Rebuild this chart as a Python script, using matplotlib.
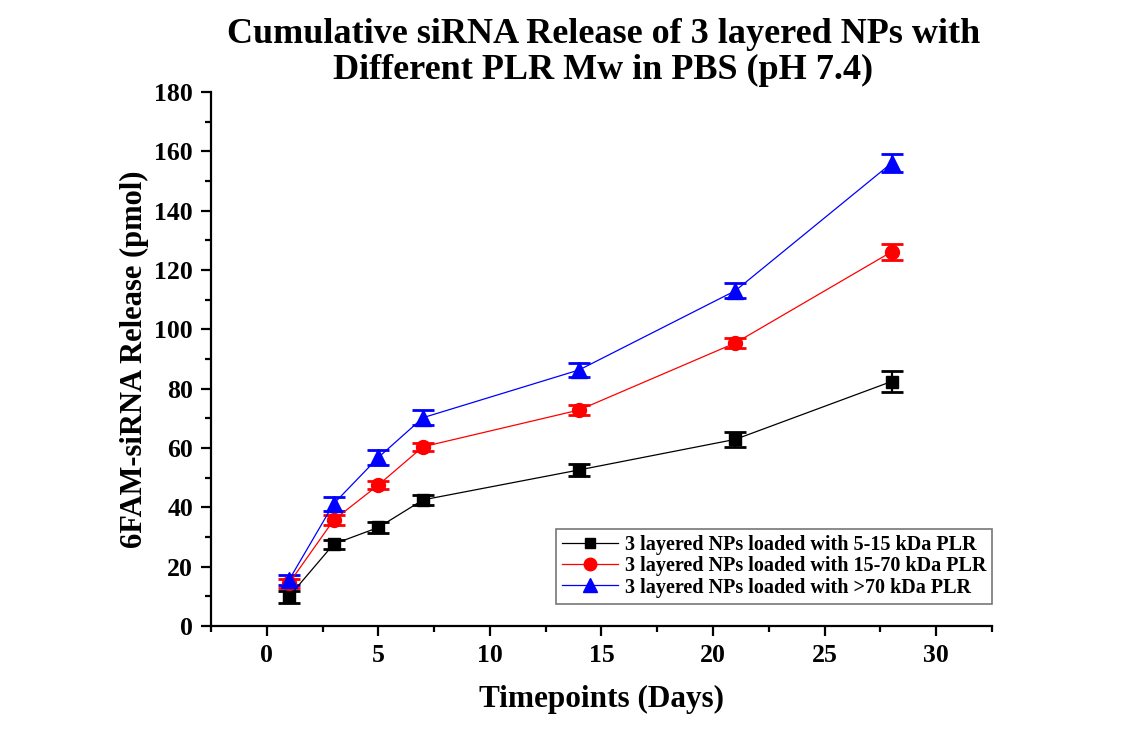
import matplotlib
matplotlib.use("Agg")
import matplotlib.pyplot as plt
from matplotlib.ticker import MultipleLocator
from matplotlib.lines import Line2D

plt.rcParams['font.family'] = ['Liberation Serif', 'DejaVu Serif']
plt.rcParams['font.weight'] = 'bold'

# Release data (pmol) at each timepoint (days), mean and SD
days = [1, 3, 5, 7, 14, 21, 28]
low_mw = [9.9, 27.6, 33.2, 42.5, 52.6, 62.9, 82.4]
low_mw_err = [2.0, 1.5, 1.8, 1.8, 2.1, 2.6, 3.4]
mid_mw = [14.4, 35.7, 47.5, 60.4, 72.8, 95.4, 126.1]
mid_mw_err = [1.5, 1.8, 1.4, 1.3, 1.6, 1.8, 2.7]
high_mw = [15.5, 41.2, 56.8, 70.2, 86.3, 113.0, 156.0]
high_mw_err = [1.8, 2.4, 2.4, 2.5, 2.5, 2.6, 3.0]

labels = ["3 layered NPs loaded with 5-15 kDa PLR",
          "3 layered NPs loaded with 15-70 kDa PLR",
          "3 layered NPs loaded with >70 kDa PLR"]

fig = plt.figure(figsize=(11.36, 7.38), dpi=100)
ax = fig.add_axes([0.1857, 0.1518, 0.6875, 0.7236])

series = [
    (low_mw, low_mw_err, 'black', 's', 9, 7),
    (mid_mw, mid_mw_err, '#ff0000', 'o', 10, 9),
    (high_mw, high_mw_err, '#0000ff', '^', 11, 10),
]
handles = []
for (vals, errs, color, marker, ms, lms), lab in zip(series, labels):
    ax.errorbar(days, vals, yerr=errs, color=color, marker=marker,
                markersize=ms, linewidth=0.9, elinewidth=1.6,
                capsize=8, capthick=2)
    handles.append(Line2D([], [], color=color, marker=marker,
                          markersize=lms, linewidth=0.9, label=lab))

ax.set_xlim(-2.5, 32.5)
ax.set_ylim(0, 180)
ax.xaxis.set_major_locator(MultipleLocator(5))
ax.xaxis.set_minor_locator(MultipleLocator(2.5))
ax.yaxis.set_major_locator(MultipleLocator(20))
ax.yaxis.set_minor_locator(MultipleLocator(10))

for side in ['top', 'right']:
    ax.spines[side].set_visible(False)
for side in ['left', 'bottom']:
    ax.spines[side].set_linewidth(1.6)

ax.tick_params(which='major', direction='out', length=7, width=1.6,
               labelsize=18.5, pad=6)
ax.tick_params(which='minor', direction='out', length=4, width=1.6)
for t in ax.get_xticklabels() + ax.get_yticklabels():
    t.set_fontweight('bold')

ax.set_xlabel("Timepoints (Days)", fontsize=22.5, fontweight='bold', labelpad=13)
ax.set_ylabel("6FAM-siRNA Release (pmol)", fontsize=22, fontweight='bold', labelpad=4)

fig.text(0.531, 0.975,
         "Cumulative siRNA Release of 3 layered NPs with\nDifferent PLR Mw in PBS (pH 7.4)",
         ha='center', va='top', fontsize=26, fontweight='bold', linespacing=1.12)

leg = ax.legend(handles=handles, loc='lower right', bbox_to_anchor=(1.0, 0.042),
                prop={'size': 14.5, 'weight': 'bold'}, frameon=True,
                fancybox=False, edgecolor='#555555', handlelength=2.8,
                labelspacing=0.05, borderpad=0.3, handletextpad=0.3,
                borderaxespad=0.0)
leg.get_frame().set_linewidth(1.2)

fig.savefig("out.png", dpi=100, facecolor='white')
